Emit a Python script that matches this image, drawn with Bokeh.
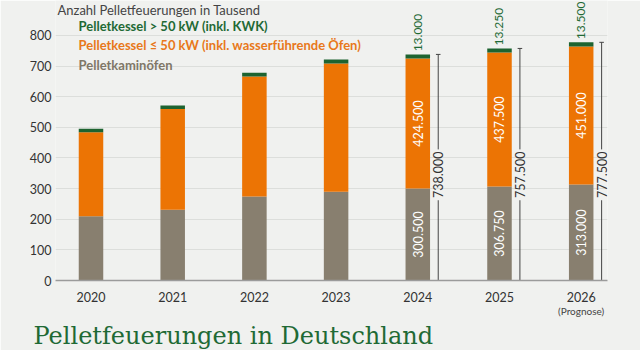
import math
from bokeh.plotting import figure
from bokeh.models import ColumnDataSource, Range1d, FixedTicker, Label, LinearAxis, Title
from bokeh.core.properties import value
from bokeh.embed import file_html
from bokeh.resources import INLINE

# ---- data (thousands) ----
years = [2020, 2021, 2022, 2023, 2024, 2025, 2026]
kaminoefen = [210.0, 231.0, 274.0, 290.0, 300.5, 306.75, 313.0]
kessel_klein = [274.0, 328.5, 392.0, 418.5, 424.5, 437.5, 451.0]
kessel_gross = [11.0, 11.5, 12.0, 12.5, 13.0, 13.25, 13.5]
labeled_years = [2024, 2025, 2026]
y_ticks = [0, 100, 200, 300, 400, 500, 600, 700, 800]

series_names = [
    "Pelletkessel > 50 kW (inkl. KWK)",
    "Pelletkessel \u2264 50 kW (inkl. wasserf\u00fchrende \u00d6fen)",
    "Pelletkamin\u00f6fen",
]
y_title = "Anzahl Pelletfeuerungen in Tausend"
main_title = "Pelletfeuerungen in Deutschland"
prognose_year = 2026
prognose_note = "(Prognose)"

# ---- styles ----
BG = "#f0f1ef"
GREEN = "#1d6330"
GREEN_TXT = "#1f6a35"
ORANGE = "#ec7404"
ORANGE_TXT = "#e8781a"
GRAY = "#887f6f"
GRAY_TXT = "#7f7767"
TXT = "#333333"
FONT = "Lato"

def fmt(v):
    return f"{v:.3f}"

totals = [a + b + c for a, b, c in zip(kaminoefen, kessel_klein, kessel_gross)]

src = ColumnDataSource(dict(x=years, kamin=kaminoefen, klein=kessel_klein, gross=kessel_gross))

p = figure(width=640, height=350, output_backend="svg", toolbar_location=None,
           x_range=Range1d(2019.5655, 2026.322), y_range=Range1d(0, 914),
           min_border_left=55, min_border_right=33, min_border_top=0, min_border_bottom=70,
           background_fill_color=BG, border_fill_color=BG, outline_line_color=None)

p.vbar_stack(["kamin", "klein", "gross"], x="x", width=0.30, color=[GRAY, ORANGE, GREEN],
             line_color=None, source=src)

# axes
p.yaxis.ticker = FixedTicker(ticks=y_ticks)
p.yaxis.major_tick_line_color = None
p.yaxis.minor_tick_line_color = None
p.yaxis.major_tick_out = 0
p.yaxis.major_tick_in = 0
p.yaxis.axis_line_color = None
p.yaxis.major_label_standoff = 4
p.yaxis.major_label_text_font = FONT
p.yaxis.major_label_text_font_size = "12.5px"
p.yaxis.major_label_text_color = TXT

p.xaxis.ticker = FixedTicker(ticks=years)
p.xaxis.major_tick_line_color = None
p.xaxis.minor_tick_line_color = None
p.xaxis.major_tick_out = 0
p.xaxis.major_tick_in = 0
p.xaxis.axis_line_color = "#9b9b9b"
p.xaxis.axis_line_width = 1.5
p.xaxis.major_label_standoff = 11
p.xaxis.major_label_text_font = FONT
p.xaxis.major_label_text_font_size = "12.5px"
p.xaxis.major_label_text_color = TXT

# second, small axis line for the "(Prognose)" note
note_axis = LinearAxis(ticker=FixedTicker(ticks=[prognose_year]),
                       major_label_overrides={prognose_year: prognose_note},
                       axis_line_color=None, major_tick_line_color=None, minor_tick_line_color=None,
                       major_tick_out=0, major_tick_in=0, major_label_standoff=0,
                       major_label_text_font=FONT, major_label_text_font_size="10px",
                       major_label_text_color="#444444")
p.add_layout(note_axis, "below")

p.add_layout(Title(text=main_title, align="left", offset=-22, standoff=0,
                   text_font="DejaVu Serif", text_font_size="24px", text_font_style="normal",
                   text_color=GREEN_TXT), "below")

p.xgrid.grid_line_color = None
p.ygrid.grid_line_color = "#dcdedb"
p.ygrid.grid_line_width = 1

# labels for the last three years
idx = [years.index(y) for y in labeled_years]
lx = [years[i] for i in idx]
off = 0.25
top_src = ColumnDataSource(dict(
    x=lx,
    y=[totals[i] + 10 for i in idx],
    t=[fmt(kessel_gross[i]) for i in idx]))
p.text(x="x", y="y", text="t", source=top_src, angle=math.pi / 2,
       text_align="left", text_baseline="middle", text_color=GREEN_TXT,
       text_font=value(FONT), text_font_size="12px")

in_src = ColumnDataSource(dict(
    x=lx + lx,
    y=[kaminoefen[i] + kessel_klein[i] / 2 for i in idx] + [kaminoefen[i] / 2 for i in idx],
    t=[fmt(kessel_klein[i]) for i in idx] + [fmt(kaminoefen[i]) for i in idx]))
p.text(x="x", y="y", text="t", source=in_src, angle=math.pi / 2,
       text_align="center", text_baseline="middle", text_color="white",
       text_font=value(FONT), text_font_size="12.5px")

gap_lo, gap_hi, lab_mid = 262, 428, 345
bx = [x + off for x in lx]
p.segment(x0=bx, y0=[totals[i] for i in idx], x1=bx, y1=[gap_hi] * 3, line_color="#444444", line_width=1)
p.segment(x0=bx, y0=[gap_lo] * 3, x1=bx, y1=[0] * 3, line_color="#444444", line_width=1)
p.segment(x0=[x - 0.028 for x in bx], y0=[totals[i] for i in idx],
          x1=[x + 0.028 for x in bx], y1=[totals[i] for i in idx], line_color="#444444", line_width=1)
tot_src = ColumnDataSource(dict(x=bx, y=[lab_mid] * 3, t=[fmt(totals[i]) for i in idx]))
p.text(x="x", y="y", text="t", source=tot_src, angle=math.pi / 2,
       text_align="center", text_baseline="middle", text_color=TXT,
       text_font=value(FONT), text_font_size="12.5px")

# legend as coloured text
for name, col, yy in zip(series_names, [GREEN_TXT, ORANGE_TXT, GRAY_TXT], [830, 768, 703]):
    p.add_layout(Label(x=2019.847, y=yy, text=name, text_color=col, text_font=FONT,
                       text_font_style="bold", text_font_size="13px", text_baseline="middle"))

p.add_layout(Label(x=2019.59, y=883, text=y_title, text_color="#444444", text_font=FONT,
                   text_font_size="13px", text_baseline="alphabetic"))

open("out.html", "w").write(file_html(p, INLINE))
